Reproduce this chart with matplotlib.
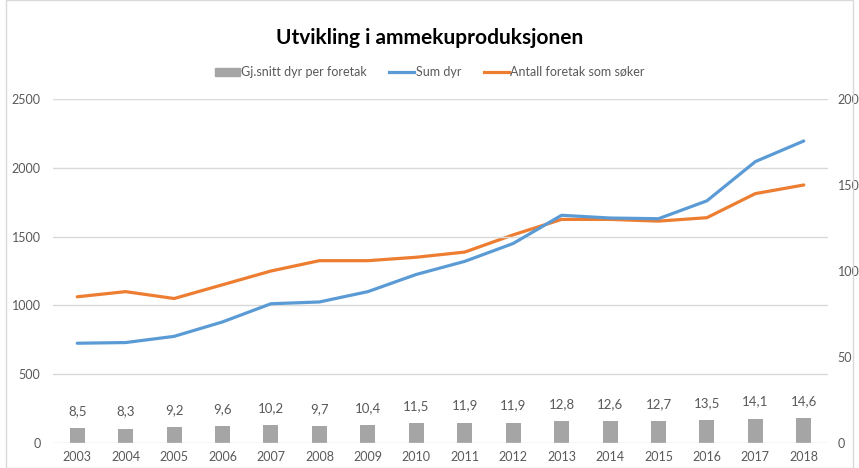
import matplotlib.pyplot as plt
import numpy as np
from matplotlib.patches import Rectangle
from matplotlib.lines import Line2D

plt.rcParams['font.family'] = ['Lato', 'DejaVu Sans']

# Data
years = [str(y) for y in range(2003, 2019)]
sum_dyr = [725, 730, 775, 880, 1012, 1025, 1100, 1225, 1320, 1450, 1655, 1635, 1630, 1760, 2045, 2195]
antall_foretak = [85, 88, 84, 92, 100, 106, 106, 108, 111, 121, 130, 130, 129, 131, 145, 150]
snitt_dyr = [8.5, 8.3, 9.2, 9.6, 10.2, 9.7, 10.4, 11.5, 11.9, 11.9, 12.8, 12.6, 12.7, 13.5, 14.1, 14.6]
snitt_labels = [f"{v:.1f}".replace('.', ',') for v in snitt_dyr]

BLUE = '#5B9BD5'
ORANGE = '#ED7D31'
GRAY = '#A5A5A5'
TEXT = '#595959'

fig = plt.figure(figsize=(8.59, 4.68), dpi=100)
ax = fig.add_axes([53 / 859, 25 / 468, 775 / 859, 344 / 468])
ax2 = ax.twinx()

x = np.arange(len(years))

# left axis: Sum dyr, right axis: bars and Antall foretak
ax.set_zorder(ax2.get_zorder() + 1)
ax.patch.set_visible(False)

ax2.bar(x, snitt_dyr, width=0.31, color=GRAY, zorder=2)
for xi, v, lab in zip(x, snitt_dyr, snitt_labels):
    ax2.annotate(lab, (xi, v), xytext=(0, 8), textcoords='offset points',
                 ha='center', va='bottom', fontsize=9.5, color=TEXT)
ax2.plot(x, antall_foretak, color=ORANGE, lw=2.3, solid_capstyle='round', zorder=3)
ax.plot(x, sum_dyr, color=BLUE, lw=2.3, solid_capstyle='round', zorder=3)

ax.set_xlim(-0.5, len(years) - 0.5)
ax.set_ylim(0, 2500)
ax2.set_ylim(0, 200)
ax.set_yticks(range(0, 2501, 500))
ax2.set_yticks(range(0, 201, 50))
ax.set_xticks(x)
ax.set_xticklabels(years)

ax.grid(axis='y', color='#D9D9D9', lw=1)
ax.set_axisbelow(True)
for a in (ax, ax2):
    for s in a.spines.values():
        s.set_visible(False)
    a.tick_params(length=0, labelsize=9, labelcolor=TEXT)
ax.tick_params(axis='y', pad=9)
ax2.tick_params(axis='y', pad=7)
ax.tick_params(axis='x', pad=6)

fig.text(0.5, 1 - 38 / 468, 'Utvikling i ammekuproduksjonen', ha='center', va='center',
         fontsize=15, fontweight='bold', color='black')

handles = [Rectangle((0, 0), 1, 1, color=GRAY),
           Line2D([], [], color=BLUE, lw=2.3),
           Line2D([], [], color=ORANGE, lw=2.3)]
fig.legend(handles, ['Gj.snitt dyr per foretak', 'Sum dyr', 'Antall foretak som søker'],
           loc='center', bbox_to_anchor=(0.5, 1 - 72 / 468), ncol=3, frameon=False,
           fontsize=9, labelcolor=TEXT, handlelength=2.0, handleheight=0.6,
           handletextpad=0.1, columnspacing=1.8)

fig.patches.append(Rectangle((6 / 859, 0), 1 - 12 / 859, 1, transform=fig.transFigure,
                             fill=False, edgecolor='#D9D9D9', lw=1))

fig.savefig('out.png', dpi=100)
